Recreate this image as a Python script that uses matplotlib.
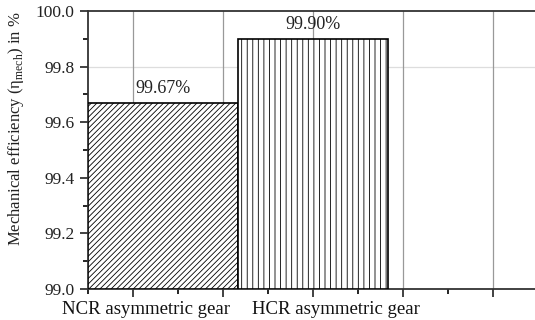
import numpy as np
import matplotlib
matplotlib.use("Agg")
import matplotlib.pyplot as plt
from matplotlib.ticker import MultipleLocator, FormatStrFormatter

plt.rcParams['font.family'] = ['Liberation Serif', 'DejaVu Serif']
plt.rcParams['mathtext.fontset'] = 'custom'
plt.rcParams['mathtext.rm'] = 'Liberation Serif'
plt.rcParams['hatch.linewidth'] = 0.6
plt.rcParams['hatch.color'] = '#444444'

gears = ['NCR asymmetric gear', 'HCR asymmetric gear']
efficiency = [99.67, 99.90]
hatches = ['//////', '|||']

fig = plt.figure(figsize=(5.35, 3.2), dpi=100)
ax = fig.add_axes([0.1645, 0.097, 0.841, 0.8688])

# two wide bars sitting side by side, starting at the left spine
width = 1.665
lefts = -0.5 + width * np.arange(len(gears))
for left, val, h in zip(lefts, efficiency, hatches):
    ax.bar(left, val - 99.0, width=width, bottom=99.0, align='edge',
           facecolor='white', edgecolor='black', linewidth=1.2, hatch=h, zorder=3)
    ax.text(left + width / 2, val + 0.022, '%.2f%%' % val,
            ha='center', va='bottom', fontsize=13, color='#222222', zorder=4)

# category names written under the axis, not on the ticks
for xc, name in zip([0.14, 2.26], gears):
    ax.text(xc, 98.955, name, ha='center', va='top', fontsize=13.5,
            color='#111111')

ax.set_xlim(-0.5, 4.5)
ax.set_ylim(99.0, 100.0)

ax.xaxis.set_major_locator(MultipleLocator(1))
ax.xaxis.set_minor_locator(MultipleLocator(0.5))
ax.yaxis.set_major_locator(MultipleLocator(0.2))
ax.yaxis.set_minor_locator(MultipleLocator(0.1))
ax.set_xticklabels([])
ax.yaxis.set_major_formatter(FormatStrFormatter('%.1f'))

ax.tick_params(axis='both', which='major', direction='out', length=6, width=1.2,
               labelsize=12.5, colors='#222222')
ax.tick_params(axis='both', which='minor', direction='out', length=3.5, width=1.2)
ax.tick_params(axis='x', which='both', top=False)
ax.tick_params(axis='y', which='both', right=False)

ax.grid(axis='x', which='major', color='#999999', linewidth=0.9, zorder=0)
ax.axhline(99.8, color='#dddddd', linewidth=0.9, zorder=0)

for side in ['left', 'bottom', 'top', 'right']:
    ax.spines[side].set_linewidth(1.3)
    ax.spines[side].set_color('#333333')

ax.set_ylabel('Mechanical efficiency (η$_{\\mathrm{mech}}$) in %', fontsize=12,
              color='#222222')
ax.yaxis.set_label_coords(-0.138, 0.575)

fig.savefig('out.png', dpi=100)
